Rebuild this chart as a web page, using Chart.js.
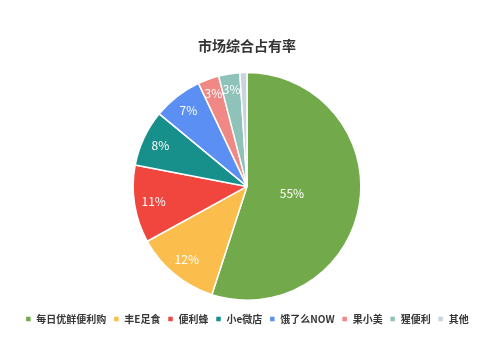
<!DOCTYPE html>
<html>
<head>
<meta charset="utf-8">
<script src="https://cdn.jsdelivr.net/npm/chart.js@4"></script>
<style>
    html, body { margin: 0; padding: 0; background: #fff; }
    #wrap { width: 499px; height: 357px; }
</style>
</head>
<body>
<div id="wrap"><canvas id="shareChart"></canvas></div>
<script>
// Data
const chartTitle = '市场综合占有率';
const brands = ['每日优鲜便利购', '丰E足食', '便利蜂', '小e微店', '饿了么NOW', '果小美', '猩便利', '其他'];
const shares = [55, 12, 11, 8, 7, 3, 3, 1];
const shareLabels = ['55%', '12%', '11%', '8%', '7%', '3%', '3%', ''];

// Styles
const sliceColors = ['#72aa4b', '#fbbd4b', '#f0463d', '#178f8a', '#5b8ff4', '#f08886', '#8fc2b8', '#c9d4dd'];
const labelRadius = [0.4, 0.83, 0.83, 0.84, 0.84, 0.87, 0.86, 0.86];
const cjkFont = '"Noto Sans CJK SC", "Noto Sans", sans-serif';

// Percent labels inside the slices
const sliceLabels = {
    id: 'sliceLabels',
    afterDatasetsDraw(chart) {
        const ctx = chart.ctx;
        const meta = chart.getDatasetMeta(0);
        ctx.save();
        ctx.fillStyle = '#ffffff';
        ctx.font = '12px ' + cjkFont;
        ctx.textAlign = 'center';
        ctx.textBaseline = 'middle';
        meta.data.forEach((arc, i) => {
            if (!shareLabels[i]) return;
            const mid = (arc.startAngle + arc.endAngle) / 2;
            const r = arc.outerRadius * labelRadius[i];
            ctx.fillText(shareLabels[i], arc.x + Math.cos(mid) * r, arc.y + Math.sin(mid) * r);
        });
        ctx.restore();
    }
};

new Chart(document.getElementById('shareChart'), {
    type: 'pie',
    data: {
        labels: brands,
        datasets: [{
            data: shares,
            backgroundColor: sliceColors,
            borderColor: '#ffffff',
            borderWidth: 1.5
        }]
    },
    options: {
        responsive: true,
        maintainAspectRatio: false,
        animation: false,
        layout: {
            padding: { left: 0, right: 5, top: 0, bottom: 23 }
        },
        plugins: {
            title: {
                display: true,
                text: chartTitle,
                color: '#333333',
                font: { family: cjkFont, size: 14, weight: 'bold' },
                padding: { top: 37, bottom: 18 }
            },
            legend: {
                position: 'bottom',
                // empty title just used as a spacer above the items
                title: {
                    display: true,
                    text: '',
                    font: { size: 6, lineHeight: 1 },
                    padding: 0
                },
                labels: {
                    color: '#383838',
                    font: { family: cjkFont, size: 10, weight: 'bold' },
                    boxWidth: 6,
                    boxHeight: 6,
                    padding: 7
                }
            },
            tooltip: { enabled: false }
        }
    },
    plugins: [sliceLabels]
});
</script>
</body>
</html>
